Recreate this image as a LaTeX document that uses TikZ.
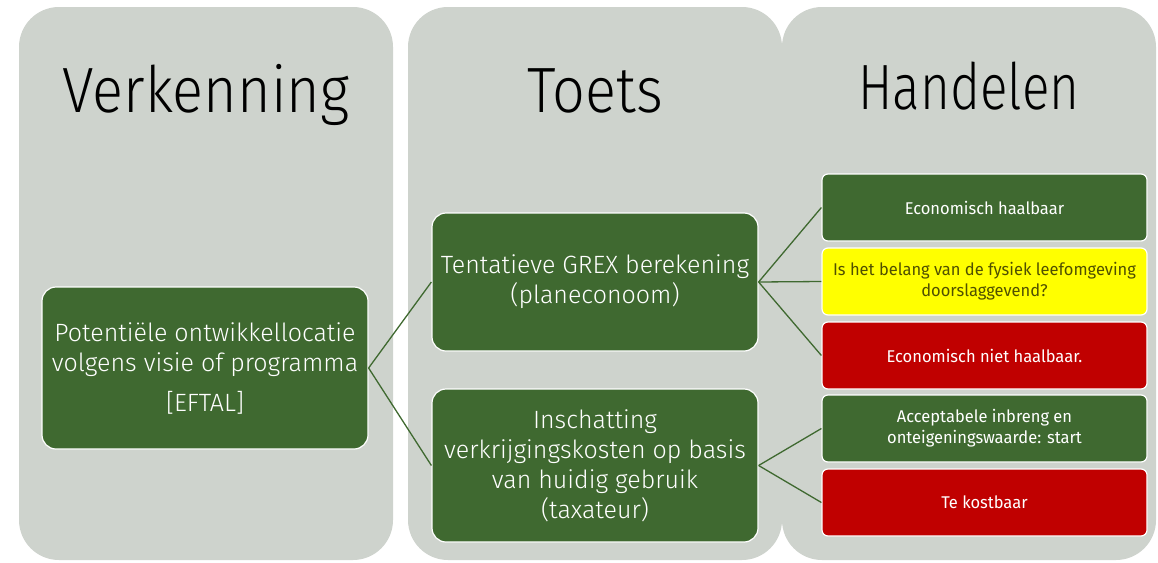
\documentclass[tikz,border=0pt]{standalone}
\usepackage{fontspec}
\setmainfont{Fira Sans}
\newfontfamily\titlefont{Fira Sans Light}[FakeStretch=0.9]
\newfontfamily\narrowtitlefont{Fira Sans Light}[FakeStretch=0.8]
\newfontfamily\boxfont{Fira Sans Light}
\newfontfamily\smallfont{Fira Sans}[FakeStretch=0.97]

\definecolor{panel}{RGB}{206,211,205}
\definecolor{leaf}{RGB}{63,105,48}
\definecolor{warn}{RGB}{255,255,0}
\definecolor{stop}{RGB}{192,0,0}
\definecolor{olive}{RGB}{80,80,0}

\tikzset{
  panelbox/.style={fill=panel, draw=none, rounded corners=40pt,
    minimum width=374pt, minimum height=553pt, inner sep=0pt},
  heading/.style={anchor=base, font=\titlefont\fontsize{64}{70}\selectfont, text=black},
  bigbox/.style={fill=leaf, draw=white, line width=1.2pt, rounded corners=14pt,
    minimum width=326pt, text=white, align=center, inner sep=0pt,
    font=\boxfont\fontsize{25}{30}\selectfont},
  smallbox/.style={draw=white, line width=1.2pt, rounded corners=6pt,
    minimum width=325pt, minimum height=67pt, align=center, inner sep=0pt,
    font=\smallfont\fontsize{17}{21}\selectfont},
  goodbox/.style={smallbox, fill=leaf, text=white},
  askbox/.style={smallbox, fill=warn, text=olive},
  badbox/.style={smallbox, fill=stop, text=white},
  link/.style={draw=leaf, line width=1.3pt}
}

\begin{document}
\begin{tikzpicture}[x=1pt, y=-1pt]
\useasboundingbox (0,0) rectangle (1158,562);

% three phase panels
\node[panelbox] (colA) at (206,283.5) {};
\node[panelbox] (colB) at (595,283.5) {};
\node[panelbox] (colC) at (969,283.5) {};

% panel headings
\node[heading] (hA) at (206,112) {Verkenning};
\node[heading] (hB) at (595,112) {Toets};
\node[heading, font=\narrowtitlefont\fontsize{64}{70}\selectfont] (hC) at (969,109) {Handelen};

% main steps
\node[bigbox, minimum height=162pt] (loc) at (205,368)
  {Potentiële ontwikkellocatie\\volgens visie of programma\\[10pt][EFTAL]};
\node[bigbox, minimum height=138pt] (grex) at (595,282)
  {Tentatieve GREX berekening\\(planeconoom)};
\node[bigbox, minimum height=153pt] (tax) at (595,465.5)
  {Inschatting\\verkrijgingskosten op basis\\van huidig gebruik\\(taxateur)};

% outcomes
\node[goodbox] (ok) at (984.5,207.5) {Economisch haalbaar};
\node[askbox] (ask) at (984.5,281.5) {Is het belang van de fysiek leefomgeving\\doorslaggevend?};
\node[badbox] (nok) at (984.5,355.5) {Economisch niet haalbaar.};
\node[goodbox] (start) at (984.5,428.5) {Acceptabele inbreng en\\onteigeningswaarde: start};
\node[badbox] (dear) at (984.5,502.5) {Te kostbaar};

% connectors
\draw[link] (loc.east) -- (grex.west);
\draw[link] (loc.east) -- (tax.west);
\draw[link] (grex.east) -- (ok.west);
\draw[link] (grex.east) -- (ask.west);
\draw[link] (grex.east) -- (nok.west);
\draw[link] (tax.east) -- (start.west);
\draw[link] (tax.east) -- (dear.west);
\end{tikzpicture}
\end{document}
